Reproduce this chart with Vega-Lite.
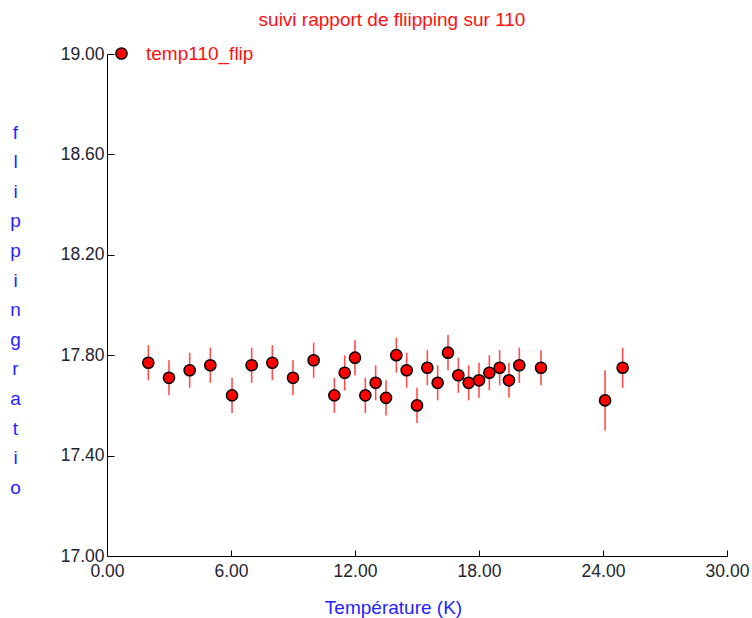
{
  "$schema": "https://vega.github.io/schema/vega-lite/v6.json",
  "width": 620,
  "height": 502,
  "autosize": {"type": "none"},
  "padding": {"left": 107, "top": 54, "right": 25, "bottom": 62},
  "background": "white",
  "config": {
    "view": {"stroke": null},
    "font": "Liberation Sans"
  },
  "title": {
    "text": "suivi rapport de fliipping sur 110",
    "color": "#ff1010",
    "fontSize": 19,
    "fontWeight": "normal",
    "font": "Liberation Sans",
    "anchor": "middle",
    "dx": -25,
    "offset": 14
  },
  "data": {
    "values": [
      {"T": 2.0, "v": 17.77, "lo": 17.70, "hi": 17.84, "series": "temp110_flip"},
      {"T": 3.0, "v": 17.71, "lo": 17.64, "hi": 17.78, "series": "temp110_flip"},
      {"T": 4.0, "v": 17.74, "lo": 17.67, "hi": 17.81, "series": "temp110_flip"},
      {"T": 5.0, "v": 17.76, "lo": 17.69, "hi": 17.83, "series": "temp110_flip"},
      {"T": 6.05, "v": 17.64, "lo": 17.57, "hi": 17.71, "series": "temp110_flip"},
      {"T": 7.0, "v": 17.76, "lo": 17.69, "hi": 17.83, "series": "temp110_flip"},
      {"T": 8.0, "v": 17.77, "lo": 17.70, "hi": 17.84, "series": "temp110_flip"},
      {"T": 9.0, "v": 17.71, "lo": 17.64, "hi": 17.78, "series": "temp110_flip"},
      {"T": 10.0, "v": 17.78, "lo": 17.71, "hi": 17.85, "series": "temp110_flip"},
      {"T": 11.0, "v": 17.64, "lo": 17.57, "hi": 17.71, "series": "temp110_flip"},
      {"T": 11.5, "v": 17.73, "lo": 17.66, "hi": 17.80, "series": "temp110_flip"},
      {"T": 12.0, "v": 17.79, "lo": 17.72, "hi": 17.86, "series": "temp110_flip"},
      {"T": 12.5, "v": 17.64, "lo": 17.57, "hi": 17.71, "series": "temp110_flip"},
      {"T": 13.0, "v": 17.69, "lo": 17.62, "hi": 17.76, "series": "temp110_flip"},
      {"T": 13.5, "v": 17.63, "lo": 17.56, "hi": 17.70, "series": "temp110_flip"},
      {"T": 14.0, "v": 17.80, "lo": 17.73, "hi": 17.87, "series": "temp110_flip"},
      {"T": 14.5, "v": 17.74, "lo": 17.67, "hi": 17.81, "series": "temp110_flip"},
      {"T": 15.0, "v": 17.60, "lo": 17.53, "hi": 17.67, "series": "temp110_flip"},
      {"T": 15.5, "v": 17.75, "lo": 17.68, "hi": 17.82, "series": "temp110_flip"},
      {"T": 16.0, "v": 17.69, "lo": 17.62, "hi": 17.76, "series": "temp110_flip"},
      {"T": 16.5, "v": 17.81, "lo": 17.74, "hi": 17.88, "series": "temp110_flip"},
      {"T": 17.0, "v": 17.72, "lo": 17.65, "hi": 17.79, "series": "temp110_flip"},
      {"T": 17.5, "v": 17.69, "lo": 17.62, "hi": 17.76, "series": "temp110_flip"},
      {"T": 18.0, "v": 17.70, "lo": 17.63, "hi": 17.77, "series": "temp110_flip"},
      {"T": 18.5, "v": 17.73, "lo": 17.66, "hi": 17.80, "series": "temp110_flip"},
      {"T": 19.0, "v": 17.75, "lo": 17.68, "hi": 17.82, "series": "temp110_flip"},
      {"T": 19.45, "v": 17.70, "lo": 17.63, "hi": 17.77, "series": "temp110_flip"},
      {"T": 19.95, "v": 17.76, "lo": 17.69, "hi": 17.83, "series": "temp110_flip"},
      {"T": 21.0, "v": 17.75, "lo": 17.68, "hi": 17.82, "series": "temp110_flip"},
      {"T": 24.1, "v": 17.62, "lo": 17.50, "hi": 17.74, "series": "temp110_flip"},
      {"T": 24.95, "v": 17.75, "lo": 17.67, "hi": 17.83, "series": "temp110_flip"}
    ]
  },
  "encoding": {
    "x": {
      "field": "T",
      "type": "quantitative",
      "scale": {"domain": [0, 30], "nice": false, "zero": false},
      "axis": {
        "values": [0, 6, 12, 18, 24, 30],
        "format": ".2f",
        "grid": false,
        "domainColor": "black",
        "domainWidth": 1,
        "tickColor": "black",
        "tickSize": -6,
        "labelPadding": 12.5,
        "labelFont": "Liberation Sans",
        "labelFontSize": 17.5,
        "labelColor": "#1e2430",
        "labelFlush": false,
        "title": "Température (K)",
        "titleFont": "Liberation Sans",
        "titleFontSize": 19,
        "titleFontWeight": "normal",
        "titleColor": "#2424ff",
        "titleX": 286,
        "titleY": 51,
        "titleBaseline": "middle",
        "titleAlign": "center"
      }
    },
    "y": {
      "field": "v",
      "type": "quantitative",
      "scale": {"domain": [17, 19], "nice": false, "zero": false},
      "axis": {
        "values": [17, 17.4, 17.8, 18.2, 18.6, 19],
        "format": ".2f",
        "grid": false,
        "domainColor": "black",
        "domainWidth": 1,
        "tickColor": "black",
        "tickSize": -7,
        "labelPadding": 10,
        "labelFont": "Liberation Sans",
        "labelFontSize": 17.5,
        "labelColor": "#1e2430",
        "labelFlush": false,
        "title": ["f", "l", "i", "p", "p", "i", "n", "g", "r", "a", "t", "i", "o"],
        "titleFont": "Liberation Sans",
        "titleFontSize": 19,
        "titleFontWeight": "normal",
        "titleColor": "#2424ff",
        "titleAngle": 0,
        "titleLineHeight": 29.6,
        "titleX": -92,
        "titleY": 78,
        "titleAlign": "center",
        "titleBaseline": "middle"
      }
    }
  },
  "layer": [
    {
      "mark": {"type": "rule", "color": "#ff2020", "strokeWidth": 1.6, "opacity": 0.8},
      "encoding": {
        "y": {"field": "lo", "type": "quantitative"},
        "y2": {"field": "hi"}
      }
    },
    {
      "mark": {"type": "point", "shape": "circle", "filled": true, "size": 125, "stroke": "black", "strokeWidth": 1.5, "opacity": 1},
      "encoding": {
        "fill": {
          "field": "series",
          "type": "nominal",
          "scale": {"range": ["#ff0000"]},
          "legend": {
            "orient": "none",
            "legendX": 5,
            "legendY": -10,
            "title": null,
            "padding": 0,
            "symbolType": "circle",
            "symbolSize": 125,
            "symbolStrokeColor": "black",
            "symbolStrokeWidth": 1.5,
            "symbolFillColor": "#ff0000",
            "labelOffset": 15,
            "labelFont": "Liberation Sans",
            "labelFontSize": 19,
            "labelColor": "#ff1010"
          }
        }
      }
    }
  ]
}
